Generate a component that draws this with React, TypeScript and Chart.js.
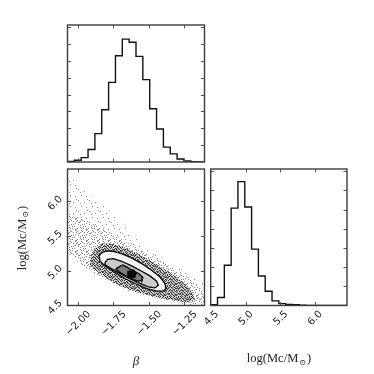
import React, { useEffect, useRef } from "react";
import { Chart, registerables } from "chart.js";
Chart.register(...registerables);

// ---------- data ----------
const betaRange = [-2.072, -1.108];
const logMRange = [4.496, 6.465];

const betaTicks = [-2.0, -1.75, -1.5, -1.25];
const betaTickLabels = ["−2.00", "−1.75", "−1.50", "−1.25"];
const logMTicks = [4.5, 5.0, 5.5, 6.0];
const logMTickLabels = ["4.5", "5.0", "5.5", "6.0"];

// histogram counts (20 bins spanning the axis range)
const betaCounts = [2, 5, 13, 37, 84, 155, 236, 315, 364, 355, 313, 244, 158, 98, 44, 24, 9, 3, 1, 0];
const logMCounts = [2, 21, 105, 254, 323, 257, 147, 77, 37, 12, 5, 3, 2, 1, 0, 0, 0, 0, 0, 0];
const betaHistMax = 406;
const logMHistMax = 356;
const betaCountTicks = [50, 100, 150, 200, 250, 300, 350, 400];
const logMCountTicks = [50, 100, 150, 200, 250, 300, 350];

// 2D panel: [beta, logM]
const haloFaint = [
  [-2.069, 6.357], [-2.012, 6.328], [-1.942, 6.156], [-1.85, 6.012], [-1.731, 5.767],
  [-1.611, 5.523], [-1.499, 5.292], [-1.379, 5.148], [-1.26, 5.004], [-1.147, 4.861],
  [-1.11, 4.817], [-1.11, 4.5], [-1.147, 4.5], [-1.379, 4.573], [-1.611, 4.674],
  [-1.85, 4.947], [-1.942, 5.062], [-2.012, 5.206], [-2.069, 5.292],
];
const haloMid = [
  [-2.069, 5.8], [-1.984, 5.76], [-1.879, 5.66], [-1.773, 5.55], [-1.668, 5.42],
  [-1.562, 5.3], [-1.457, 5.19], [-1.351, 5.06], [-1.246, 4.92], [-1.147, 4.76],
  [-1.11, 4.688], [-1.11, 4.5], [-1.246, 4.5], [-1.379, 4.573], [-1.562, 4.659],
  [-1.703, 4.76], [-1.843, 4.918], [-1.942, 5.033], [-2.012, 5.15], [-2.069, 5.25],
];
const haloDark = [
  [-1.914, 5.177], [-1.879, 5.321], [-1.822, 5.39], [-1.738, 5.38], [-1.647, 5.31],
  [-1.548, 5.21], [-1.45, 5.1], [-1.351, 4.97], [-1.267, 4.845], [-1.196, 4.7],
  [-1.175, 4.58], [-1.225, 4.54], [-1.351, 4.58], [-1.492, 4.635], [-1.632, 4.72],
  [-1.759, 4.835], [-1.858, 4.976], [-1.914, 5.076],
];
const contourOuter = [
  [-1.85, 5.211], [-1.832, 5.259], [-1.797, 5.283], [-1.75, 5.278], [-1.691, 5.244],
  [-1.621, 5.182], [-1.55, 5.101], [-1.48, 5.005], [-1.422, 4.909], [-1.386, 4.813],
  [-1.379, 4.741], [-1.398, 4.702], [-1.445, 4.702], [-1.515, 4.741], [-1.597, 4.813],
  [-1.668, 4.885], [-1.738, 4.971], [-1.808, 5.067], [-1.843, 5.134],
];
const contourMiddle = [
  [-1.808, 5.115], [-1.79, 5.163], [-1.75, 5.172], [-1.691, 5.134], [-1.621, 5.067],
  [-1.55, 4.99], [-1.492, 4.923], [-1.445, 4.846], [-1.433, 4.789], [-1.457, 4.75],
  [-1.504, 4.765], [-1.574, 4.822], [-1.644, 4.894], [-1.715, 4.971], [-1.773, 5.038],
  [-1.804, 5.077],
];
const contourInner = [
  [-1.733, 5.025], [-1.685, 5.08], [-1.652, 5.05], [-1.612, 5.0], [-1.566, 4.95],
  [-1.542, 4.9], [-1.547, 4.858], [-1.578, 4.848], [-1.615, 4.872], [-1.664, 4.923],
  [-1.708, 4.978],
];
const core = [
  [-1.652, 4.995], [-1.604, 5.02], [-1.583, 4.961], [-1.597, 4.885], [-1.652, 4.9],
];

// ---------- helpers ----------
const W = 374;
const H = 374;
const PANEL_TOP = { l: 67.5, r: 204.5, t: 25, b: 162 };
const PANEL_2D = { l: 67.5, r: 204.5, t: 169, b: 305.5 };
const PANEL_RIGHT = { l: 210.7, r: 347, t: 169, b: 305.5 };

const TEXT = "#222";
const TICK_FONT = '10px "DejaVu Sans"';

// speckle texture tiles (style only): dot offsets in an 11x11 tile
const SPARSE_DOTS = [[1, 2], [7, 4], [4, 8], [9, 9], [3, 5], [10, 1]];
const MEDIUM_DOTS = [
  [0, 0], [3, 1], [7, 1], [9, 3], [1, 4], [5, 4], [8, 6], [3, 7], [0, 8], [6, 8],
  [10, 9], [4, 10], [2, 2], [6, 6], [9, 10], [5, 0],
];
const DENSE_DOTS = [
  [0, 0], [2, 0], [5, 0], [8, 0], [1, 1], [4, 1], [6, 1], [9, 1], [0, 2], [3, 2], [7, 2], [10, 2],
  [2, 3], [5, 3], [8, 3], [0, 4], [4, 4], [6, 4], [9, 4], [1, 5], [3, 5], [7, 5], [10, 5],
  [0, 6], [5, 6], [8, 6], [2, 7], [4, 7], [6, 7], [9, 7], [1, 8], [3, 8], [7, 8], [10, 8],
  [0, 9], [5, 9], [8, 9], [2, 10], [4, 10], [6, 10], [9, 10],
];

function makePattern(dots: number[][], color: string, base?: string) {
  const tile = document.createElement("canvas");
  tile.width = 11;
  tile.height = 11;
  const t = tile.getContext("2d")!;
  if (base) {
    t.fillStyle = base;
    t.fillRect(0, 0, 11, 11);
  }
  t.fillStyle = color;
  for (const [x, y] of dots) t.fillRect(x, y, 1, 1);
  return t.createPattern(tile, "repeat")!;
}

function closed(arr: number[][]) {
  const pts = arr.map(([x, y]) => ({ x, y }));
  pts.push({ x: arr[0][0], y: arr[0][1] });
  return pts;
}

function histPoints(counts: number[], range: number[]) {
  const n = counts.length;
  const w = (range[1] - range[0]) / n;
  const pts = [{ x: range[0], y: 0 }];
  counts.forEach((c, i) => pts.push({ x: range[0] + i * w, y: c }));
  pts.push({ x: range[1], y: counts[n - 1] });
  pts.push({ x: range[1], y: 0 });
  return pts;
}

function rotLabel(ctx: CanvasRenderingContext2D, text: string, cx: number, cy: number) {
  ctx.save();
  ctx.translate(cx, cy);
  ctx.rotate(-Math.PI / 4);
  ctx.textAlign = "center";
  ctx.textBaseline = "middle";
  ctx.fillText(text, 0, 0);
  ctx.restore();
}

function drawLogMTitle(ctx: CanvasRenderingContext2D, cx: number, cy: number, vertical: boolean) {
  ctx.save();
  ctx.translate(cx, cy);
  if (vertical) ctx.rotate(-Math.PI / 2);
  ctx.fillStyle = TEXT;
  ctx.textBaseline = "alphabetic";
  ctx.textAlign = "left";
  const mainFont = '12.5px "Liberation Serif"';
  const subFont = '8px "DejaVu Serif"';
  ctx.font = mainFont;
  const a = "log(Mc/M";
  const c = ")";
  const wa = ctx.measureText(a).width;
  const wc = ctx.measureText(c).width;
  ctx.font = subFont;
  const b = "⊙";
  const wb = ctx.measureText(b).width;
  const gap = 1;
  const total = wa + gap + wb + gap + wc;
  let x = -total / 2;
  const base = 4;
  ctx.font = mainFont;
  ctx.fillText(a, x, base);
  x += wa + gap;
  ctx.font = subFont;
  ctx.fillText(b, x, base + 2.5);
  x += wb + gap;
  ctx.font = mainFont;
  ctx.fillText(c, x, base);
  ctx.restore();
}

type FrameCfg = {
  xTicks: number[];
  yTicks: number[];
  xLabels?: string[];
  yLabels?: string[];
  extra?: (ctx: CanvasRenderingContext2D) => void;
};

function framePlugin(cfg: FrameCfg) {
  return {
    id: "cornerFrame",
    afterDraw(chart: any) {
      const { ctx, chartArea: a, scales } = chart;
      const xs = scales.x;
      const ys = scales.y;
      ctx.save();
      ctx.strokeStyle = "#555";
      ctx.lineWidth = 1;
      const seg = (x1: number, y1: number, x2: number, y2: number) => {
        ctx.beginPath();
        ctx.moveTo(x1, y1);
        ctx.lineTo(x2, y2);
        ctx.stroke();
      };
      const TL = 3.5;
      for (const v of cfg.xTicks) {
        const p = Math.round(xs.getPixelForValue(v)) + 0.5;
        if (p <= a.left + 1 || p >= a.right - 1) continue;
        seg(p, a.top, p, a.top + TL);
        seg(p, a.bottom, p, a.bottom - TL);
      }
      for (const v of cfg.yTicks) {
        const p = Math.round(ys.getPixelForValue(v)) + 0.5;
        if (p <= a.top + 1 || p >= a.bottom - 1) continue;
        seg(a.left, p, a.left + TL, p);
        seg(a.right, p, a.right - TL, p);
      }
      ctx.strokeStyle = "#3c3c3c";
      ctx.lineWidth = 1.4;
      ctx.strokeRect(a.left, a.top, a.right - a.left, a.bottom - a.top);

      ctx.fillStyle = TEXT;
      ctx.font = TICK_FONT;
      const GH = 7.3;
      if (cfg.xLabels) {
        cfg.xTicks.forEach((v, i) => {
          const t = cfg.xLabels![i];
          const w = ctx.measureText(t).width;
          const half = (w + GH) / (2 * Math.SQRT2);
          rotLabel(ctx, t, xs.getPixelForValue(v) + 0.5, a.bottom + 4.5 + half);
        });
      }
      if (cfg.yLabels) {
        cfg.yTicks.forEach((v, i) => {
          const t = cfg.yLabels![i];
          const w = ctx.measureText(t).width;
          const half = (w + GH) / (2 * Math.SQRT2);
          rotLabel(ctx, t, a.left - 4 - half, ys.getPixelForValue(v) + 2);
        });
      }
      if (cfg.extra) cfg.extra(ctx);
      ctx.restore();
    },
  };
}

function baseOptions(panel: { l: number; r: number; t: number; b: number }, xr: number[], yr: number[]) {
  return {
    responsive: false,
    animation: false as const,
    devicePixelRatio: 1,
    events: [] as any[],
    layout: {
      padding: { left: panel.l, right: W - panel.r, top: panel.t, bottom: H - panel.b },
    },
    elements: { point: { radius: 0, hoverRadius: 0 } },
    plugins: { legend: { display: false }, tooltip: { enabled: false }, title: { display: false } },
    scales: {
      x: { type: "linear" as const, min: xr[0], max: xr[1], display: false },
      y: { type: "linear" as const, min: yr[0], max: yr[1], display: false },
    },
  };
}

function useChart(build: (canvas: HTMLCanvasElement) => Chart) {
  const ref = useRef<HTMLCanvasElement | null>(null);
  useEffect(() => {
    if (!ref.current) return;
    const ch = build(ref.current);
    return () => ch.destroy();
  }, []);
  return ref;
}

const canvasStyle: React.CSSProperties = { position: "absolute", left: 0, top: 0, width: W, height: H };

function TopHist() {
  const ref = useChart(
    (c) =>
      new Chart(c, {
        type: "line",
        data: {
          datasets: [
            {
              data: histPoints(betaCounts, betaRange),
              stepped: true,
              borderColor: "#111",
              borderWidth: 1.4,
              fill: false,
            },
          ],
        },
        options: baseOptions(PANEL_TOP, betaRange, [0, betaHistMax]) as any,
        plugins: [framePlugin({ xTicks: betaTicks, yTicks: betaCountTicks })],
      })
  );
  return <canvas ref={ref} width={W} height={H} style={canvasStyle} />;
}

function RightHist() {
  const ref = useChart(
    (c) =>
      new Chart(c, {
        type: "line",
        data: {
          datasets: [
            {
              data: histPoints(logMCounts, logMRange),
              stepped: true,
              borderColor: "#111",
              borderWidth: 1.4,
              fill: false,
            },
          ],
        },
        options: baseOptions(PANEL_RIGHT, logMRange, [0, logMHistMax]) as any,
        plugins: [
          framePlugin({
            xTicks: logMTicks,
            yTicks: logMCountTicks,
            xLabels: logMTickLabels,
            extra: (ctx) => drawLogMTitle(ctx, 279, 358, false),
          }),
        ],
      })
  );
  return <canvas ref={ref} width={W} height={H} style={canvasStyle} />;
}

function Joint() {
  const poly = (pts: number[][], bg: any, border: string, bw: number) => ({
    data: closed(pts),
    fill: "shape",
    backgroundColor: bg,
    borderColor: border,
    borderWidth: bw,
    tension: 0,
  });
  const ref = useChart((c) => {
    const sparse = makePattern(SPARSE_DOTS, "rgba(0,0,0,0.45)");
    const medium = makePattern(MEDIUM_DOTS, "rgba(0,0,0,0.5)");
    const dense = makePattern(DENSE_DOTS, "rgba(0,0,0,0.75)", "rgba(0,0,0,0.18)");
    return new Chart(c, {
      type: "line",
      data: {
        datasets: [
          poly(core, "#0a0a0a", "transparent", 1),
          poly(contourInner, "#7a7a7a", "#000", 1.3),
          poly(contourMiddle, "#cbcbcb", "#000", 1.3),
          poly(contourOuter, "#f4f4f4", "#000", 1.3),
          poly(haloDark, dense, "transparent", 1),
          poly(haloMid, medium, "transparent", 1),
          poly(haloFaint, sparse, "transparent", 1),
        ] as any,
      },
      options: baseOptions(PANEL_2D, betaRange, logMRange) as any,
      plugins: [
        framePlugin({
          xTicks: betaTicks,
          yTicks: logMTicks,
          xLabels: betaTickLabels,
          yLabels: logMTickLabels,
          extra: (ctx) => {
            ctx.save();
            ctx.fillStyle = TEXT;
            ctx.font = 'italic 13px "Liberation Serif"';
            ctx.textAlign = "center";
            ctx.textBaseline = "middle";
            ctx.fillText("β", 136, 362);
            ctx.restore();
            drawLogMTitle(ctx, 21.5, 238, true);
          },
        }),
      ],
    });
  });
  return <canvas ref={ref} width={W} height={H} style={canvasStyle} />;
}

export default function App() {
  return (
    <div style={{ position: "fixed", left: 0, top: 0, width: W, height: H, background: "#fff", overflow: "hidden" }}>
      <TopHist />
      <Joint />
      <RightHist />
    </div>
  );
}
